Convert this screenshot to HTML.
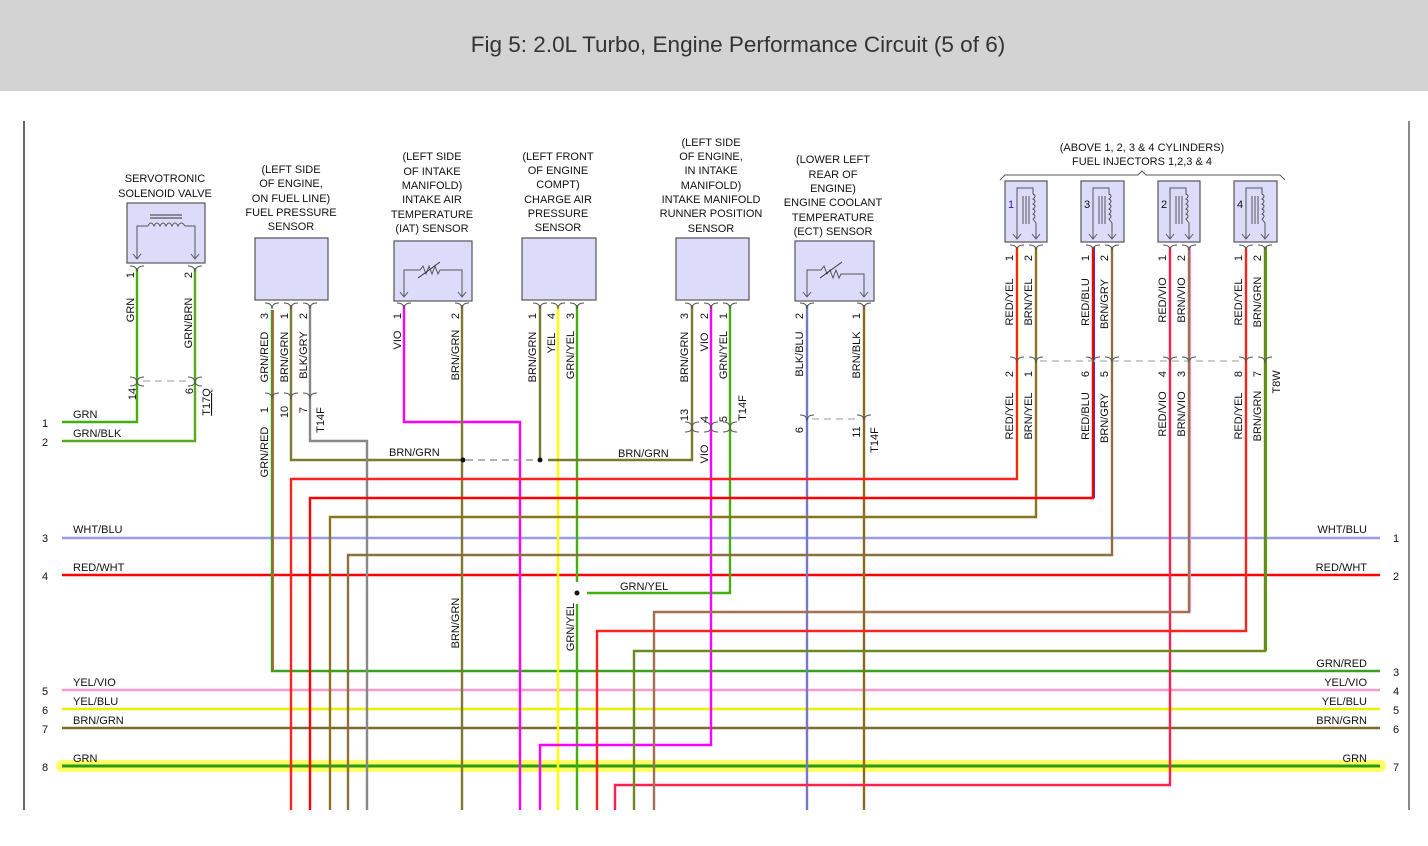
<!DOCTYPE html>
<html><head><meta charset="utf-8"><style>
html,body{margin:0;padding:0;background:#fff;width:1428px;height:846px;overflow:hidden}
.hdr{position:absolute;left:0;top:0;width:1380px;padding-left:48px;height:91px;background:#d3d3d3;font-family:"Liberation Sans",sans-serif;font-size:22.5px;color:#333;text-align:center;line-height:90px}
svg{position:absolute;left:0;top:0}
text{font-family:"Liberation Sans",sans-serif;font-size:11px;fill:#111}
.t{font-size:11px;text-anchor:middle}
.w{fill:none;stroke-width:2.4;stroke-linejoin:miter}
.tr{fill:none;stroke-width:1}
.c{fill:none;stroke:#555;stroke-width:1}
.box{fill:#dcdcfa;stroke:#555;stroke-width:1.2}
.d{stroke:#bbb;stroke-width:1.5;stroke-dasharray:7,5}
</style></head><body>
<div class="hdr">Fig 5: 2.0L Turbo, Engine Performance Circuit (5 of 6)</div>
<svg width="1428" height="846" viewBox="0 0 1428 846">
<line x1="24" y1="121" x2="24" y2="810" stroke="#333" stroke-width="1.5"/>
<line x1="1409" y1="121" x2="1409" y2="810" stroke="#888" stroke-width="2"/>

<line x1="62" y1="766" x2="1380" y2="766" stroke="#ffff66" stroke-width="12" stroke-linecap="round"/>

<g class="w">
<line x1="62" y1="538" x2="1380" y2="538" stroke="#9a9aee"/>
<line x1="62" y1="575" x2="1380" y2="575" stroke="#ff0000"/>
<polyline points="272,310 272,671 1380,671" stroke="#3aa020"/>
<line x1="62" y1="690" x2="1380" y2="690" stroke="#ff99cc"/>
<line x1="62" y1="709" x2="1380" y2="709" stroke="#eeee00"/>
<line x1="62" y1="728" x2="1380" y2="728" stroke="#7a6a30"/>
<line x1="62" y1="766" x2="1380" y2="766" stroke="#2a9a10" stroke-width="3"/>

<polyline points="137,268 137,422 62,422" stroke="#44b010"/>
<polyline points="195,268 195,441 62,441" stroke="#55aa20"/>

<polyline points="291,305 291,460 463,460" stroke="#7a7a30"/>
<polyline points="310,305 310,441 367,441 367,810" stroke="#888"/>
<polyline points="404,305 404,422 520,422 520,810" stroke="#ff00ff"/>
<polyline points="462,305 462,810" stroke="#7a7a30"/>
<polyline points="540,305 540,460" stroke="#7a7a30"/>
<line x1="558" y1="305" x2="558" y2="810" stroke="#ffff00"/>
<polyline points="577,305 577,582" stroke="#44b010"/>
<polyline points="577,604 577,810" stroke="#44b010"/>
<polyline points="587,593 730,593 730,305" stroke="#44b010"/>
<polyline points="548,460 692,460 692,305" stroke="#7a7a30"/>
<polyline points="711,305 711,745 540,745 540,810" stroke="#ff00ff"/>
<line x1="807" y1="305" x2="807" y2="810" stroke="#7777cc"/>
<line x1="864" y1="305" x2="864" y2="810" stroke="#8a6a20"/>
<polyline points="1017,247 1017,479 291,479 291,810" stroke="#ff2020"/>
<polyline points="1036,247 1036,517 330,517 330,810" stroke="#8a7420"/>
<polyline points="1093,247 1093,498 310,498 310,810" stroke="#ff0000"/>
<polyline points="1112,247 1112,555 348,555 348,810" stroke="#8a7040"/>
<polyline points="1170,247 1170,785 615,785 615,810" stroke="#ff2050"/>
<polyline points="1189,247 1189,612 654,612 654,810" stroke="#a07050"/>
<polyline points="1246,247 1246,631 597,631 597,810" stroke="#ff2020"/>
<polyline points="1265,247 1265,651 634,651 634,810" stroke="#6a8a20"/>
</g>
<g class="tr">
<line x1="1094.5" y1="247" x2="1094.5" y2="498" stroke="#3333ff"/>
<line x1="1018.5" y1="247" x2="1018.5" y2="479" stroke="#ffff66"/>
<line x1="1266.5" y1="247" x2="1266.5" y2="651" stroke="#44aa00"/>
<line x1="1190.5" y1="247" x2="1190.5" y2="612" stroke="#ee88ee"/>
<line x1="273.5" y1="310" x2="273.5" y2="671" stroke="#ff4444"/>
</g>

<line class="d" x1="143" y1="381" x2="190" y2="381"/>
<line class="d" x1="1040" y1="361" x2="1240" y2="361"/>
<line class="d" x1="812" y1="419" x2="860" y2="419"/>
<line x1="466" y1="460" x2="536" y2="460" stroke="#888" stroke-width="1.2" stroke-dasharray="7,5"/>
<circle cx="463" cy="460" r="2.5" fill="#111"/>
<circle cx="540" cy="460" r="2.5" fill="#111"/>
<circle cx="577" cy="593" r="2.5" fill="#111"/>

<rect class="box" x="127" y="203" width="78" height="60"/>
<path d="M137 258 V226 H148 M195 258 V226 H185" class="c" stroke="#333"/>
<path d="M148 226 q3 -6 6 0 q3 -6 6 0 q3 -6 6 0 q3 -6 6 0 q3 -6 6 0 q3 -6 7 0" class="c"/>
<line x1="150" y1="218" x2="182" y2="218" stroke="#333"/><line x1="150" y1="215" x2="182" y2="215" stroke="#333"/>
<path class="c" d="M133 254 l4 5 l4 -5 M191 254 l4 5 l4 -5"/>
<rect class="box" x="255" y="238" width="73" height="62"/>
<rect class="box" x="394" y="241" width="78" height="60"/>
<path d="M404 296 V270 H420 l3 -4 3 8 3 -8 3 8 3 -8 3 8 2 -4 H462 V296" class="c"/>
<line x1="418" y1="278" x2="440" y2="262" stroke="#333"/>
<path class="c" d="M400 292 l4 5 l4 -5 M458 292 l4 5 l4 -5"/>
<rect class="box" x="522" y="238" width="74" height="62"/>
<rect class="box" x="676" y="238" width="73" height="62"/>
<rect class="box" x="795" y="241" width="79" height="60"/>
<path d="M807 296 V270 H821 l3 -4 3 8 3 -4 3 8 3 -8 3 8 2 -4 H864 V296" class="c"/>
<line x1="820" y1="278" x2="842" y2="262" stroke="#333"/>
<path class="c" d="M803 292 l4 5 l4 -5 M860 292 l4 5 l4 -5"/>
<g>
<rect class="box" x="1005" y="181" width="42" height="61"/>
<rect class="box" x="1081" y="181" width="43" height="61"/>
<rect class="box" x="1158" y="181" width="42" height="61"/>
<rect class="box" x="1234" y="181" width="43" height="61"/>
<path class="c" d="M1017 238 V188 H1033 V194 q4 2 0 5 q4 2 0 5 q4 2 0 5 q4 2 0 5 q4 2 0 5 l3 4 V238 M1023 196 V224 M1026 196 V224 M1029 196 V224
M1093 238 V188 H1109 V194 q4 2 0 5 q4 2 0 5 q4 2 0 5 q4 2 0 5 q4 2 0 5 l3 4 V238 M1099 196 V224 M1102 196 V224 M1105 196 V224
M1170 238 V188 H1186 V194 q4 2 0 5 q4 2 0 5 q4 2 0 5 q4 2 0 5 q4 2 0 5 l3 4 V238 M1176 196 V224 M1179 196 V224 M1182 196 V224
M1246 238 V188 H1262 V194 q4 2 0 5 q4 2 0 5 q4 2 0 5 q4 2 0 5 q4 2 0 5 l3 4 V238 M1252 196 V224 M1255 196 V224 M1258 196 V224
M1013 234 l4 5 l4 -5 M1032 234 l4 5 l4 -5 M1089 234 l4 5 l4 -5 M1108 234 l4 5 l4 -5 M1166 234 l4 5 l4 -5 M1185 234 l4 5 l4 -5 M1242 234 l4 5 l4 -5 M1261 234 l4 5 l4 -5"/>
</g>
<path d="M1000 180 l5 -5 H1138 l4 -4 4 4 H1280 l5 5" class="c"/>
<text x="1008" y="208" style="fill:#2222cc">1</text><text x="1084" y="208">3</text><text x="1161" y="208">2</text><text x="1237" y="208">4</text>

<g class="c">
<path d="M130 266 q7 0 7 6 q0 -6 7 -6 M188 266 q7 0 7 6 q0 -6 7 -6"/>
<path d="M130 377 q7 0 7 6 q0 -6 7 -6 M188 377 q7 0 7 6 q0 -6 7 -6 M130 386 q7 0 7 -5 q0 5 7 5 M188 386 q7 0 7 -5 q0 5 7 5"/>
<path d="M265 303 q7 0 7 6 q0 -6 7 -6 M284 303 q7 0 7 6 q0 -6 7 -6 M303 303 q7 0 7 6 q0 -6 7 -6"/>
<path d="M265 393 q7 0 7 6 q0 -6 7 -6 M284 393 q7 0 7 6 q0 -6 7 -6 M303 393 q7 0 7 6 q0 -6 7 -6"/>
<path d="M397 303 q7 0 7 6 q0 -6 7 -6 M455 303 q7 0 7 6 q0 -6 7 -6"/>
<path d="M533 303 q7 0 7 6 q0 -6 7 -6 M551 303 q7 0 7 6 q0 -6 7 -6 M570 303 q7 0 7 6 q0 -6 7 -6"/>
<path d="M685 303 q7 0 7 6 q0 -6 7 -6 M704 303 q7 0 7 6 q0 -6 7 -6 M723 303 q7 0 7 6 q0 -6 7 -6"/>
<path d="M685 422 q7 0 7 6 q0 -6 7 -6 M704 422 q7 0 7 6 q0 -6 7 -6 M723 422 q7 0 7 6 q0 -6 7 -6 M685 432 q7 0 7 -5 q0 5 7 5 M704 432 q7 0 7 -5 q0 5 7 5 M723 432 q7 0 7 -5 q0 5 7 5"/>
<path d="M800 303 q7 0 7 6 q0 -6 7 -6 M857 303 q7 0 7 6 q0 -6 7 -6"/>
<path d="M800 415 q7 0 7 6 q0 -6 7 -6 M857 415 q7 0 7 6 q0 -6 7 -6"/>
<path d="M1010 245 q7 0 7 5 q0 -5 7 -5 M1029 245 q7 0 7 5 q0 -5 7 -5 M1086 245 q7 0 7 5 q0 -5 7 -5 M1105 245 q7 0 7 5 q0 -5 7 -5 M1163 245 q7 0 7 5 q0 -5 7 -5 M1182 245 q7 0 7 5 q0 -5 7 -5 M1239 245 q7 0 7 5 q0 -5 7 -5 M1258 245 q7 0 7 5 q0 -5 7 -5"/>
<path d="M1010 357 q7 0 7 6 q0 -6 7 -6 M1029 357 q7 0 7 6 q0 -6 7 -6 M1086 357 q7 0 7 6 q0 -6 7 -6 M1105 357 q7 0 7 6 q0 -6 7 -6 M1163 357 q7 0 7 6 q0 -6 7 -6 M1182 357 q7 0 7 6 q0 -6 7 -6 M1239 357 q7 0 7 6 q0 -6 7 -6 M1258 357 q7 0 7 6 q0 -6 7 -6"/>
</g>

<g class="t">
<text x="165" y="182">SERVOTRONIC</text><text x="165" y="197">SOLENOID VALVE</text>
<text x="291" y="173">(LEFT SIDE</text><text x="291" y="187">OF ENGINE,</text><text x="291" y="202">ON FUEL LINE)</text><text x="291" y="216">FUEL PRESSURE</text><text x="291" y="230">SENSOR</text>
<text x="432" y="160">(LEFT SIDE</text><text x="432" y="175">OF INTAKE</text><text x="432" y="189">MANIFOLD)</text><text x="432" y="203">INTAKE AIR</text><text x="432" y="218">TEMPERATURE</text><text x="432" y="232">(IAT) SENSOR</text>
<text x="558" y="160">(LEFT FRONT</text><text x="558" y="174">OF ENGINE</text><text x="558" y="188">COMPT)</text><text x="558" y="203">CHARGE AIR</text><text x="558" y="217">PRESSURE</text><text x="558" y="231">SENSOR</text>
<text x="711" y="146">(LEFT SIDE</text><text x="711" y="160">OF ENGINE,</text><text x="711" y="174">IN INTAKE</text><text x="711" y="189">MANIFOLD)</text><text x="711" y="203">INTAKE MANIFOLD</text><text x="711" y="217">RUNNER POSITION</text><text x="711" y="232">SENSOR</text>
<text x="833" y="163">(LOWER LEFT</text><text x="833" y="178">REAR OF</text><text x="833" y="192">ENGINE)</text><text x="833" y="206">ENGINE COOLANT</text><text x="833" y="221">TEMPERATURE</text><text x="833" y="235">(ECT) SENSOR</text>
<text x="1142" y="151">(ABOVE 1, 2, 3 &amp; 4 CYLINDERS)</text><text x="1142" y="165">FUEL INJECTORS 1,2,3 &amp; 4</text>
</g>

<g>
<text x="73" y="418">GRN</text><text x="73" y="437">GRN/BLK</text>
<text x="42" y="427">1</text><text x="42" y="446">2</text>
<text x="73" y="533">WHT/BLU</text><text x="73" y="571">RED/WHT</text>
<text x="73" y="686">YEL/VIO</text><text x="73" y="705">YEL/BLU</text><text x="73" y="724">BRN/GRN</text><text x="73" y="762">GRN</text>
<text x="42" y="542">3</text><text x="42" y="580">4</text><text x="42" y="695">5</text><text x="42" y="714">6</text><text x="42" y="733">7</text><text x="42" y="771">8</text>
<g style="text-anchor:end">
<text x="1367" y="533">WHT/BLU</text><text x="1367" y="571">RED/WHT</text><text x="1367" y="667">GRN/RED</text><text x="1367" y="686">YEL/VIO</text><text x="1367" y="705">YEL/BLU</text><text x="1367" y="724">BRN/GRN</text><text x="1367" y="762">GRN</text>
</g>
<text x="1393" y="542">1</text><text x="1393" y="580">2</text><text x="1393" y="676">3</text><text x="1393" y="695">4</text><text x="1393" y="714">5</text><text x="1393" y="733">6</text><text x="1393" y="771">7</text>
<text x="389" y="456">BRN/GRN</text><text x="618" y="457">BRN/GRN</text><text x="620" y="590">GRN/YEL</text>
</g>

<g style="text-anchor:middle">
<text transform="translate(134,310) rotate(-90)">GRN</text>
<text transform="translate(192,323) rotate(-90)">GRN/BRN</text>
<text transform="translate(134,275) rotate(-90)">1</text><text transform="translate(192,275) rotate(-90)">2</text>
<text transform="translate(136,394) rotate(-90)">14</text><text transform="translate(193,391) rotate(-90)">6</text>
<text transform="translate(210,402) rotate(-90)" style="text-decoration:underline">T17Q</text>
<text transform="translate(268,316) rotate(-90)">3</text><text transform="translate(288,316) rotate(-90)">1</text><text transform="translate(307,316) rotate(-90)">2</text>
<text transform="translate(268,357) rotate(-90)">GRN/RED</text><text transform="translate(288,357) rotate(-90)">BRN/GRN</text><text transform="translate(307,355) rotate(-90)">BLK/GRY</text>
<text transform="translate(268,410) rotate(-90)">1</text><text transform="translate(288,412) rotate(-90)">10</text><text transform="translate(307,410) rotate(-90)">7</text>
<text transform="translate(324,420) rotate(-90)">T14F</text>
<text transform="translate(268,452) rotate(-90)">GRN/RED</text>
<text transform="translate(401,316) rotate(-90)">1</text><text transform="translate(459,316) rotate(-90)">2</text>
<text transform="translate(401,340) rotate(-90)">VIO</text><text transform="translate(459,355) rotate(-90)">BRN/GRN</text>
<text transform="translate(459,623) rotate(-90)">BRN/GRN</text>
<text transform="translate(536,316) rotate(-90)">1</text><text transform="translate(555,316) rotate(-90)">4</text><text transform="translate(574,316) rotate(-90)">3</text>
<text transform="translate(536,357) rotate(-90)">BRN/GRN</text><text transform="translate(555,343) rotate(-90)">YEL</text><text transform="translate(574,355) rotate(-90)">GRN/YEL</text>
<text transform="translate(574,627) rotate(-90)">GRN/YEL</text>
<text transform="translate(688,316) rotate(-90)">3</text><text transform="translate(708,316) rotate(-90)">2</text><text transform="translate(727,316) rotate(-90)">1</text>
<text transform="translate(688,357) rotate(-90)">BRN/GRN</text><text transform="translate(708,342) rotate(-90)">VIO</text><text transform="translate(727,355) rotate(-90)">GRN/YEL</text>
<text transform="translate(688,415) rotate(-90)">13</text><text transform="translate(708,419) rotate(-90)">4</text><text transform="translate(727,419) rotate(-90)">5</text>
<text transform="translate(746,408) rotate(-90)">T14F</text>
<text transform="translate(708,454) rotate(-90)">VIO</text>
<text transform="translate(803,316) rotate(-90)">2</text><text transform="translate(860,316) rotate(-90)">1</text>
<text transform="translate(803,354) rotate(-90)">BLK/BLU</text><text transform="translate(860,355) rotate(-90)">BRN/BLK</text>
<text transform="translate(803,430) rotate(-90)">6</text><text transform="translate(860,432) rotate(-90)">11</text>
<text transform="translate(878,440) rotate(-90)">T14F</text>
<text transform="translate(1013,258) rotate(-90)">1</text><text transform="translate(1032,258) rotate(-90)">2</text>
<text transform="translate(1089,258) rotate(-90)">1</text><text transform="translate(1108,258) rotate(-90)">2</text>
<text transform="translate(1166,258) rotate(-90)">1</text><text transform="translate(1185,258) rotate(-90)">2</text>
<text transform="translate(1242,258) rotate(-90)">1</text><text transform="translate(1261,258) rotate(-90)">2</text>
<text transform="translate(1013,302) rotate(-90)">RED/YEL</text><text transform="translate(1032,302) rotate(-90)">BRN/YEL</text>
<text transform="translate(1089,302) rotate(-90)">RED/BLU</text><text transform="translate(1108,304) rotate(-90)">BRN/GRY</text>
<text transform="translate(1166,300) rotate(-90)">RED/VIO</text><text transform="translate(1185,300) rotate(-90)">BRN/VIO</text>
<text transform="translate(1242,302) rotate(-90)">RED/YEL</text><text transform="translate(1261,302) rotate(-90)">BRN/GRN</text>
<text transform="translate(1013,374) rotate(-90)">2</text><text transform="translate(1032,374) rotate(-90)">1</text>
<text transform="translate(1089,374) rotate(-90)">6</text><text transform="translate(1108,374) rotate(-90)">5</text>
<text transform="translate(1166,374) rotate(-90)">4</text><text transform="translate(1185,374) rotate(-90)">3</text>
<text transform="translate(1242,374) rotate(-90)">8</text><text transform="translate(1261,374) rotate(-90)">7</text>
<text transform="translate(1280,382) rotate(-90)">T8W</text>
<text transform="translate(1013,416) rotate(-90)">RED/YEL</text><text transform="translate(1032,416) rotate(-90)">BRN/YEL</text>
<text transform="translate(1089,416) rotate(-90)">RED/BLU</text><text transform="translate(1108,418) rotate(-90)">BRN/GRY</text>
<text transform="translate(1166,414) rotate(-90)">RED/VIO</text><text transform="translate(1185,414) rotate(-90)">BRN/VIO</text>
<text transform="translate(1242,416) rotate(-90)">RED/YEL</text><text transform="translate(1261,416) rotate(-90)">BRN/GRN</text>
</g>
</svg>
</body></html>
